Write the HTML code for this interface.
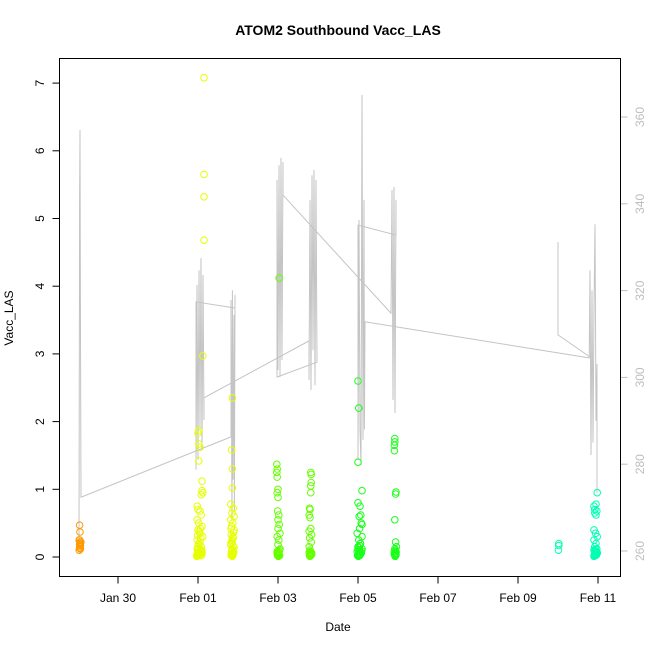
<!DOCTYPE html>
<html><head><meta charset="utf-8"><style>
html,body{margin:0;padding:0;background:#fff;}
svg{display:block;font-family:"Liberation Sans",sans-serif;}
</style></head><body>
<svg id="chart" width="650" height="650" viewBox="0 0 650 650" xmlns="http://www.w3.org/2000/svg">
<rect x="0" y="0" width="650" height="650" fill="#fff"/>
<text x="338" y="35" text-anchor="middle" font-size="14" font-weight="bold">ATOM2 Southbound Vacc_LAS</text>
<text x="338" y="631" text-anchor="middle" font-size="12">Date</text>
<text transform="translate(13,318) rotate(-90)" text-anchor="middle" font-size="12">Vacc_LAS</text>
<g id="gline"></g>
<g id="pts"></g>
<g id="axes"></g>
<rect x="59.5" y="58.5" width="561" height="518" fill="none" stroke="#000" stroke-width="1"/>
</svg>
<script>
const xTickLabels = ["Jan 30","Feb 01","Feb 03","Feb 05","Feb 07","Feb 09","Feb 11"];
const xTickDays = [0,2,4,6,8,10,12];
const yTicks = [0,1,2,3,4,5,6,7];
const y2Ticks = [260,280,300,320,340,360];

const lineDays = [-0.975,-0.96,-0.95,-0.94,-0.925,
 2.825,2.825,2.85,2.86,2.875,2.9,2.91,2.925,2.925,
 1.95,1.95,1.975,2.0,2.025,2.05,2.075,2.1,2.125,2.15,2.15,
 4.775,4.775,4.8,4.825,4.85,4.875,4.9,4.925,4.95,4.975,
 3.975,3.975,4.0,4.025,4.05,4.075,4.1,4.125,4.125,
 6.825,6.85,6.875,6.9,6.925,6.95,6.95,
 6.0,6.0,6.025,6.05,6.075,6.1,6.125,6.15,6.16,6.175,6.175,
 11.78,11.8,11.825,11.85,11.875,11.9,11.925,11.95,11.975,11.975,
 null,
 11.0,11.0,11.8];
const lineVals = [260.7,340.9,357.0,317.8,272.4,
 286.3,317.8,267.1,320.1,276.4,314.4,269.4,319.0,316.0,
 317.4,278.7,321.3,281.0,324.7,287.9,327.5,283.3,323.6,290.2,295.3,
 308.4,299.4,340.9,297.1,346.6,306.3,347.8,298.2,345.5,303.5,
 300.1,345.5,301.7,348.9,300.1,350.6,304.0,349.6,342.0,
 314.8,343.2,294.8,343.9,291.8,340.9,332.8,
 335.1,281.0,336.3,287.9,279.8,365.1,285.6,340.9,288.0,312.8,312.8,
 304.5,324.7,282.1,320.1,285.0,316.0,335.3,290.0,303.1,273.4,
 null,
 331.2,309.8,304.7];

const janTimes = [-0.96,-0.95,-0.97,-0.95,-0.94,-0.96,-0.95,-0.94,-0.97,-0.93,-0.96,-0.95,-0.94,-0.96];
const janVals  = [0.47,0.37,0.25,0.22,0.20,0.18,0.15,0.12,0.10,0.22,0.25,0.20,0.17,0.13];
const feb1Times = [2.15,2.15,2.15,2.15,2.12,2.02,2.0,2.02,2.05,2.02,2.1,2.12,2.08,2.1,
 1.98,2.0,2.05,2.08,1.98,2.02,2.1,2.0,2.05,2.12,1.98,2.02,2.08,2.0,2.05,2.1,1.98,2.02,2.06,2.0,2.08,
 1.97,1.99,2.01,2.03,2.04,2.07,2.09,1.98,2.0,2.02,2.05,2.07,1.99,2.03,2.06,2.1,1.97,2.01,2.04];
const feb1Vals = [7.08,5.65,5.32,4.68,2.97,1.87,1.83,1.67,1.62,1.42,0.98,0.95,0.92,1.12,
 0.75,0.70,0.68,0.62,0.55,0.50,0.45,0.40,0.35,0.30,0.25,0.20,0.15,0.12,0.10,0.08,0.06,0.05,0.04,0.03,0.02,
 0.02,0.03,0.04,0.05,0.06,0.08,0.1,0.12,0.15,0.18,0.22,0.28,0.32,0.38,0.42,0.05,0.01,0.02,0.03];
const feb2Times = [2.86,2.84,2.86,2.86,2.82,2.88,2.85,2.9,2.82,2.87,2.84,2.9,2.83,2.88,2.85,2.82,2.9,2.86,2.84,2.88,2.83,2.87,2.85,
 2.83,2.85,2.87,2.89,2.84,2.86,2.88,2.82,2.85,2.87,2.89,2.83,2.86,2.88];
const feb2Vals = [2.35,1.58,1.30,1.02,0.78,0.72,0.65,0.60,0.55,0.50,0.45,0.40,0.33,0.28,0.22,0.18,0.14,0.10,0.08,0.06,0.04,0.03,0.02,
 0.02,0.03,0.05,0.07,0.09,0.12,0.16,0.2,0.25,0.3,0.36,0.42,0.01,0.04];
const feb3Times = [4.03,3.97,3.98,3.97,3.98,4.0,3.98,4.0,3.99,4.02,4.0,4.03,4.0,4.05,3.98,4.02,4.0,4.05,3.98,4.02,4.0,4.04,4.01,
 3.99,4.01,4.03,4.0,4.02,4.04,3.98,4.0,4.02,4.01,3.99,4.03];
const feb3Vals = [4.12,1.37,1.30,1.25,1.18,1.00,0.95,0.88,0.68,0.62,0.55,0.48,0.42,0.35,0.30,0.25,0.18,0.12,0.08,0.05,0.03,0.02,0.01,
 0.02,0.03,0.04,0.06,0.08,0.1,0.05,0.04,0.02,0.01,0.07,0.03];
const feb4Times = [4.82,4.83,4.83,4.82,4.82,4.79,4.8,4.78,4.8,4.82,4.78,4.84,4.79,4.83,4.78,4.8,4.82,4.84,4.79,4.81,
 4.79,4.8,4.82,4.84,4.81,4.83,4.8,4.78,4.82,4.84];
const feb4Vals = [1.25,1.22,1.10,1.05,0.95,0.72,0.70,0.62,0.58,0.42,0.38,0.33,0.28,0.22,0.15,0.10,0.06,0.04,0.03,0.02,
 0.02,0.03,0.04,0.06,0.08,0.05,0.01,0.07,0.02,0.04];
const feb5Times = [6.0,6.02,6.0,6.1,6.0,6.05,6.07,6.03,6.08,6.1,6.04,5.98,6.1,6.02,6.06,6.0,6.1,6.04,5.98,6.08,6.02,6.06,6.0,6.04,
 5.99,6.01,6.03,6.05,6.07,6.09,6.0,6.02,6.04,6.06,6.08,6.01,6.03,6.05];
const feb5Vals = [2.60,2.20,1.40,0.98,0.80,0.75,0.62,0.60,0.50,0.48,0.42,0.35,0.30,0.25,0.20,0.15,0.12,0.10,0.08,0.06,0.05,0.04,0.03,0.02,
 0.02,0.03,0.04,0.05,0.07,0.09,0.11,0.14,0.17,0.2,0.06,0.01,0.08,0.03];
const feb6Times = [6.92,6.92,6.91,6.91,6.95,6.94,6.92,6.94,6.96,6.92,6.95,6.93,6.91,6.95,6.93,
 6.92,6.94,6.93,6.95,6.91,6.94,6.93];
const feb6Vals = [1.75,1.70,1.65,1.57,0.96,0.93,0.55,0.22,0.15,0.12,0.08,0.05,0.04,0.03,0.02,
 0.02,0.03,0.05,0.06,0.08,0.1,0.01];
const feb10Times = [11.02,11.02,11.01];
const feb10Vals = [0.20,0.17,0.10];
const feb11Times = [11.98,11.95,11.9,11.92,11.97,11.92,11.95,11.9,11.94,11.98,11.9,11.95,11.92,11.97,11.9,11.94,11.98,11.92,11.96,11.93,
 11.91,11.93,11.95,11.97,11.92,11.94,11.96,11.9,11.98];
const feb11Vals = [0.95,0.78,0.75,0.70,0.68,0.65,0.62,0.40,0.35,0.30,0.25,0.20,0.15,0.12,0.10,0.08,0.06,0.04,0.03,0.02,
 0.02,0.03,0.05,0.07,0.09,0.12,0.04,0.01,0.06];

const clusters = [
 {name:"jan29", t:janTimes, v:janVals, c:"#FF9900"},
 {name:"feb01", t:feb1Times, v:feb1Vals, c:"#E6FF00"},
 {name:"feb02", t:feb2Times, v:feb2Vals, c:"#E6FF00"},
 {name:"feb03", t:feb3Times, v:feb3Vals, c:"#66FF00"},
 {name:"feb04", t:feb4Times, v:feb4Vals, c:"#66FF00"},
 {name:"feb05", t:feb5Times, v:feb5Vals, c:"#1AFF1A"},
 {name:"feb06", t:feb6Times, v:feb6Vals, c:"#1AFF1A"},
 {name:"feb10", t:feb10Times, v:feb10Vals, c:"#00FFB3"},
 {name:"feb11", t:feb11Times, v:feb11Vals, c:"#00FFB3"}
];

const X = d => 118 + d*40;
const Y = v => 557 - v*67.7;
const Y2 = v => 551 - (v-260)*4.34;
const NS = "http://www.w3.org/2000/svg";
function mk(tag, attrs, parent){const e=document.createElementNS(NS,tag);for(const k in attrs)e.setAttribute(k,attrs[k]);parent.appendChild(e);return e;}

const gl = document.getElementById('gline');
let segs=[], cur=[];
for(let i=0;i<lineDays.length;i++){
  if(lineDays[i]===null){ if(cur.length) segs.push(cur); cur=[]; continue; }
  cur.push(X(lineDays[i]).toFixed(1)+","+Y2(lineVals[i]).toFixed(1));
}
if(cur.length) segs.push(cur);
segs.forEach(s=>{
  const p = mk('polyline',{points:s.join(' '),fill:'none',stroke:'#C4C4C4','stroke-width':1},gl);
  
  
});

const pg = document.getElementById('pts');
clusters.forEach(cl=>{
  for(let i=0;i<cl.v.length;i++){
    const c = mk('circle',{cx:X(cl.t[i]).toFixed(1),cy:Y(cl.v[i]).toFixed(1),r:3.3,fill:'none',stroke:cl.c,'stroke-width':1},pg);
    
    
  }
});

const ax = document.getElementById('axes');
mk('line',{x1:X(0),x2:X(12),y1:576.5,y2:576.5,stroke:'#000'},ax);
xTickDays.forEach((d,i)=>{
  const t = mk('line',{x1:X(d),x2:X(d),y1:576.5,y2:583.5,stroke:'#000'},ax);
  
  
  const l = mk('text',{x:X(d),y:602,'text-anchor':'middle','font-size':12},ax);
  l.textContent = xTickLabels[i];
  
  
});
mk('line',{x1:59.5,x2:59.5,y1:Y(0),y2:Y(7),stroke:'#000'},ax);
yTicks.forEach(v=>{
  const t = mk('line',{x1:52.5,x2:59.5,y1:Y(v),y2:Y(v),stroke:'#000'},ax);
  
  
  const l = mk('text',{transform:`translate(44,${Y(v)}) rotate(-90)`,'text-anchor':'middle','font-size':12},ax);
  l.textContent = v;
  
  
});
mk('line',{x1:620.5,x2:620.5,y1:Y2(260),y2:Y2(360),stroke:'#BEBEBE'},ax);
y2Ticks.forEach(v=>{
  const t = mk('line',{x1:620.5,x2:627.5,y1:Y2(v),y2:Y2(v),stroke:'#BEBEBE'},ax);
  
  
  const l = mk('text',{transform:`translate(644,${Y2(v)}) rotate(-90)`,'text-anchor':'middle','font-size':12,fill:'#BEBEBE'},ax);
  l.textContent = v;
  
  
});
</script>
</body></html>
